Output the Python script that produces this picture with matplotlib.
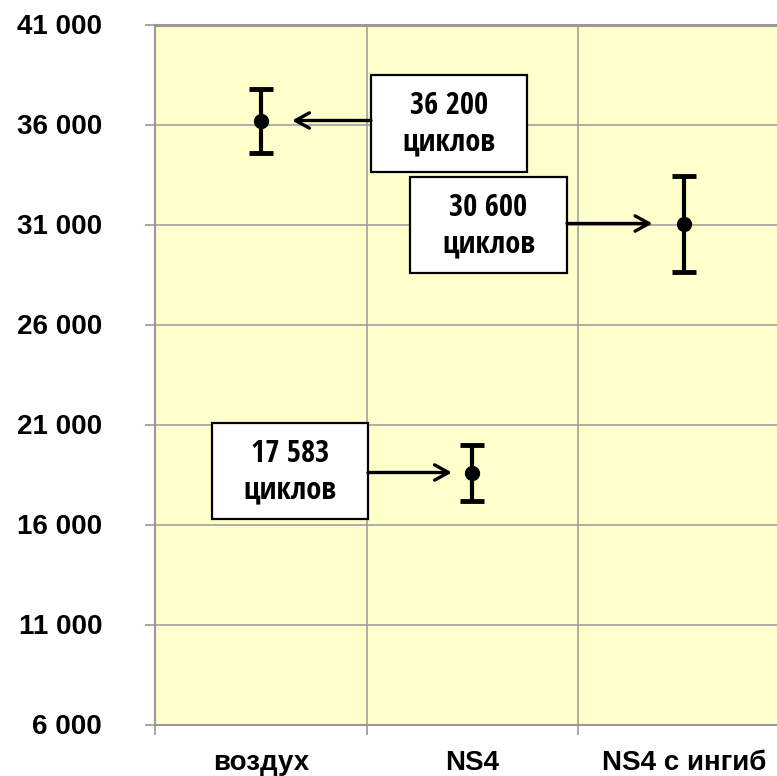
import matplotlib
matplotlib.use("Agg")
import matplotlib.pyplot as plt
from matplotlib.patches import Rectangle
from matplotlib import font_manager
from matplotlib.font_manager import FontProperties
from matplotlib.ticker import FixedLocator, FuncFormatter

# ---- data ----
categories = ["воздух", "NS4", "NS4 с ингиб"]
means = [36200, 18600, 31050]
errors = [1600, 1400, 2400]
labels = ["36 200", "17 583", "30 600"]
label_unit = "циклов"
y_ticks = [6000, 11000, 16000, 21000, 26000, 31000, 36000, 41000]

# ---- layout (annotation boxes: x0, x1, y0, y1 in data units; arrow tail/tip x) ----
boxes = [(1.021, 1.759, 33625, 38475), (0.270, 1.007, 16275, 21075), (1.206, 1.948, 28575, 33375)]
arrow_x = [(1.021, 0.648), (1.007, 1.404), (1.948, 2.352)]

# look for a condensed bold face for the box labels
narrow_path = None
cands = []
for f in font_manager.fontManager.ttflist:
    nm = f.name.lower()
    is_narrow = ('narrow' in nm or 'condensed' in nm or
                 str(f.stretch) in ('condensed', 'semi-condensed', 'extra-condensed') or
                 'condensed' in f.fname.lower() or 'narrow' in f.fname.lower())
    w = f.weight if isinstance(f.weight, int) else {'bold': 700}.get(f.weight, 400)
    if is_narrow and w >= 600 and f.style == 'normal':
        pri = 0 if 'liberation' in nm or 'arial' in nm else (1 if 'roboto' in nm or 'open' in nm else 2)
        cands.append((pri, f.fname))
if cands:
    cands.sort()
    narrow_path = cands[0][1]

def box_font(size):
    if narrow_path:
        return FontProperties(fname=narrow_path, size=size)
    return FontProperties(family=['Liberation Sans', 'DejaVu Sans'], weight='bold', size=size)

plt.rcParams['font.family'] = ['Liberation Sans', 'DejaVu Sans']

fig = plt.figure(figsize=(7.77, 7.76), dpi=100)
ax = fig.add_axes([155/777, 1-724.5/776, 634.5/777, 700/776])
ax.set_facecolor("#FFFFCC")
ax.set_xlim(0, 3)
ax.set_ylim(6000, 41000)

grid_c = "#999999"
xc = [i + 0.5 for i in range(len(categories))]

ax.yaxis.set_major_locator(FixedLocator(y_ticks))
ax.yaxis.set_major_formatter(FuncFormatter(lambda v, p: f"{int(v):,}".replace(",", " ")))
ax.xaxis.set_major_locator(FixedLocator(xc))
ax.set_xticklabels(categories)
ax.xaxis.set_minor_locator(FixedLocator([0, 1, 2, 3]))

ax.grid(True, axis='y', which='major', color=grid_c, linewidth=1.1)
ax.grid(True, axis='x', which='minor', color=grid_c, linewidth=1.1)
ax.set_axisbelow(True)

for s in ['top', 'right']:
    ax.spines[s].set_visible(False)
for s in ['left', 'bottom']:
    ax.spines[s].set_color(grid_c)
    ax.spines[s].set_linewidth(1.5)
ax.axhline(41000, color=grid_c, linewidth=2.2, zorder=1, clip_on=False)

ax.tick_params(axis='y', which='major', direction='out', length=7, width=1.2, color=grid_c,
               pad=31, labelsize=20)
ax.tick_params(axis='x', which='major', length=0, pad=18, labelsize=20)
ax.tick_params(axis='x', which='minor', direction='out', length=7, width=1.2, color=grid_c)
for t in ax.get_yticklabels() + ax.get_xticklabels():
    t.set_fontweight('bold')

ax.errorbar(xc, means, yerr=errors, fmt='o', color='black', markersize=10,
            elinewidth=3, capsize=8.5, capthick=3.5, zorder=5)

for (x0, x1, y0, y1), (ta, tb), lab, m in zip(boxes, arrow_x, labels, means):
    ax.add_patch(Rectangle((x0, y0), x1 - x0, y1 - y0, facecolor='white',
                           edgecolor='black', linewidth=1.6, zorder=6))
    cx = (x0 + x1) / 2
    fs = 22 if narrow_path else 20
    ax.text(cx, y0 + (y1 - y0) * 0.68, lab, ha='center', va='center',
            fontproperties=box_font(fs), zorder=7)
    ax.text(cx, y0 + (y1 - y0) * 0.30, label_unit, ha='center', va='center',
            fontproperties=box_font(fs), zorder=7)
    ax.annotate('', xy=(tb, m), xytext=(ta, m),
                arrowprops=dict(arrowstyle='->,head_length=1.0,head_width=0.55',
                                color='black', linewidth=2.4, shrinkA=0, shrinkB=0),
                zorder=7)

fig.savefig("out.png", dpi=100)
